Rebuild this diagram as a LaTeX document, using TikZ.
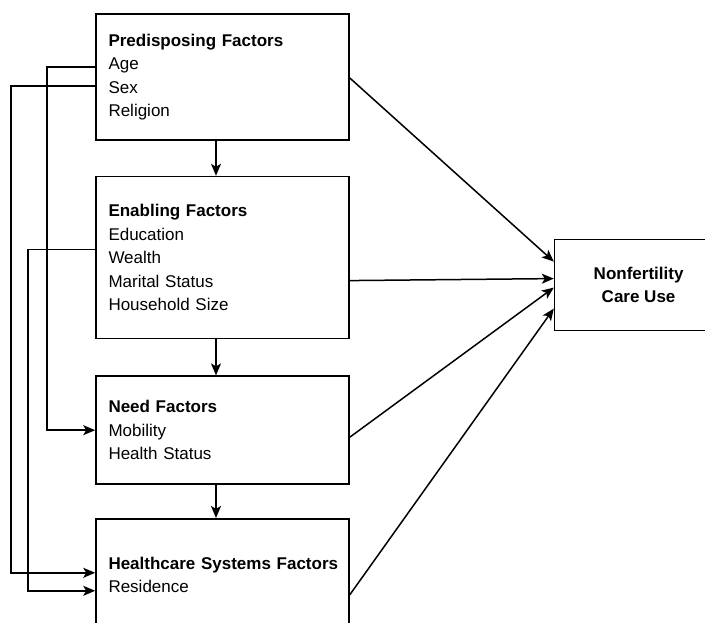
\documentclass[tikz,border=0pt]{standalone}
\usepackage{fontspec}
\setmainfont{Liberation Sans}
\usetikzlibrary{positioning,arrows.meta}

\begin{document}
\begin{tikzpicture}[x=1pt,y=1pt,
    factor/.style={draw,line width=1.6pt,minimum width=253pt,text width=228pt,inner xsep=12.5pt,
      align=left,font=\fontsize{17}{23.5}\selectfont},
    outcome/.style={draw,line width=1.6pt,minimum width=168pt,minimum height=91pt,align=center,
      font=\bfseries\fontsize{17}{23.5}\selectfont},
    link/.style={line width=1.5pt,-{Stealth[length=12pt,width=10pt,inset=3pt]}}]
  \useasboundingbox (0,0) rectangle (705,623);

  \node[factor,minimum height=126pt]                   (pre)  at (222.5,546) {\textbf{Predisposing Factors}\\Age\\Sex\\Religion};
  \node[factor,minimum height=162pt,below=35pt of pre]  (ena)  {\textbf{Enabling Factors}\\Education\\Wealth\\Marital Status\\Household Size};
  \node[factor,minimum height=108pt,below=36pt of ena]  (need) {\textbf{Need Factors}\\Mobility\\Health Status};
  \node[factor,minimum height=112pt,below=33pt of need] (hcs)  {\mbox{\textbf{Healthcare Systems Factors}}\\Residence};
  \node[outcome,right=204pt of ena,yshift=-27.5pt]       (use)  {Nonfertility\\Care Use};

  \foreach \a/\b in {pre/ena,ena/need,need/hcs}
    \draw[link] ([xshift=-6.5pt]\a.south) -- ([xshift=-6.5pt]\b.north);

  \draw[link] ([yshift=10pt]pre.west) -- ++(-48pt,0) |- (need.west);
  \draw[link] ([yshift=-9pt]pre.west) -- ++(-84pt,0) |- ([yshift=2pt]hcs.west);
  \draw[link] ([yshift=8pt]ena.west) -- ++(-67pt,0) |- ([yshift=-16pt]hcs.west);

  \draw[link] ([yshift=-1pt]pre.east) -- ([yshift=23.5pt]use.west);
  \draw[link] ([yshift=-23pt]ena.east) -- ([yshift=6.5pt]use.west);
  \draw[link] ([yshift=-7pt]need.east) -- ([yshift=-2.5pt]use.west);
  \draw[link] ([yshift=-20pt]hcs.east) -- ([yshift=-23.5pt]use.west);
\end{tikzpicture}
\end{document}
